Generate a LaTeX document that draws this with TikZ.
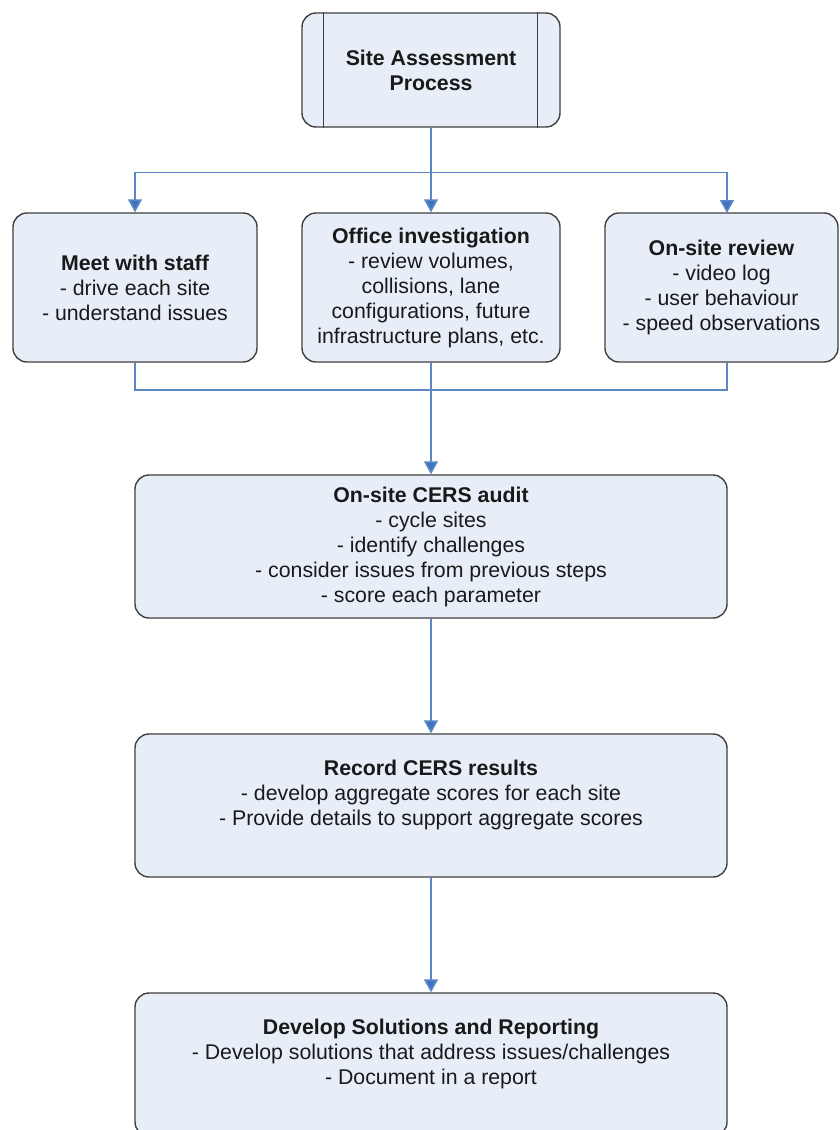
\documentclass[tikz,border=0pt]{standalone}
\usepackage{fontspec}
\setmainfont{Liberation Sans}
\usetikzlibrary{arrows.meta}
\definecolor{boxfill}{HTML}{E8EEF8}
\definecolor{boxline}{HTML}{404040}
\definecolor{flowblue}{HTML}{5B87C5}
\definecolor{tipblue}{HTML}{3F72C0}
\begin{document}
\begin{tikzpicture}[x=1pt,y=-1pt,
  box/.style={draw=boxline, fill=boxfill, line width=1.4pt, rounded corners=14pt,
    align=center, inner sep=0pt, font=\fontsize{21.3}{25}\selectfont, text=black!90},
  link/.style={draw=flowblue, line width=1.6pt},
  flow/.style={link, -{Triangle[width=14pt,length=13pt,fill=tipblue]}}]
\useasboundingbox (0,0) rectangle (840,1130);
\clip (0,0) rectangle (840,1130);
\fill[white] (0,0) rectangle (840,1130);

\node[box, minimum width=258pt, minimum height=114pt] (top) at (431,70)
  {\textbf{Site Assessment}\\\textbf{Process}};
\draw[boxline, line width=1.4pt] ([xshift=22pt]top.north west) -- ([xshift=22pt]top.south west);
\draw[boxline, line width=1.4pt] ([xshift=-23pt]top.north east) -- ([xshift=-23pt]top.south east);

\node[box, minimum width=244pt, minimum height=149pt] (meet) at (135,287.5)
  {\textbf{Meet with staff}\\- drive each site\\- understand issues};
\node[box, minimum width=258pt, minimum height=149pt] (office) at (431,287.5)
  {\textbf{Office investigation}\\- review volumes,\\collisions, lane\\configurations, future\\infrastructure plans, etc.};
\node[box, minimum width=233pt, minimum height=149pt] (onsite) at (721.5,287.5)
  {\textbf{On-site review}\\- video log\\- user behaviour\\- speed observations};

\node[box, minimum width=592pt, minimum height=143pt] (audit) at (431,546.5)
  {\textbf{On-site CERS audit}\\- cycle sites\\- identify challenges\\- consider issues from previous steps\\- score each parameter};
\node[box, minimum width=592pt, minimum height=143pt] (record) at (431,805.5)
  {\textbf{Record CERS results}\\- develop aggregate scores for each site\\- Provide details to support aggregate scores\\\mbox{}};
\node[box, minimum width=592pt, minimum height=143pt] (develop) at (431,1064.5)
  {\textbf{Develop Solutions and Reporting}\\- Develop solutions that address issues/challenges\\- Document in a report\\\mbox{}};

\coordinate (j1) at (431,172.5);
\coordinate (j2) at (431,390);
\coordinate (onsiteTop) at (727,213);
\coordinate (onsiteBot) at (727,362);

\draw[flow] (top.south) -- (office.north);
\draw[flow] (j1) -| (meet.north);
\draw[flow] (j1) -| (onsiteTop);

\draw[link] (meet.south) |- (j2);
\draw[link] (onsiteBot) |- (j2);
\draw[flow] (office.south) -- (audit.north);
\draw[flow] (audit.south) -- (record.north);
\draw[flow] (record.south) -- (develop.north);
\end{tikzpicture}
\end{document}
